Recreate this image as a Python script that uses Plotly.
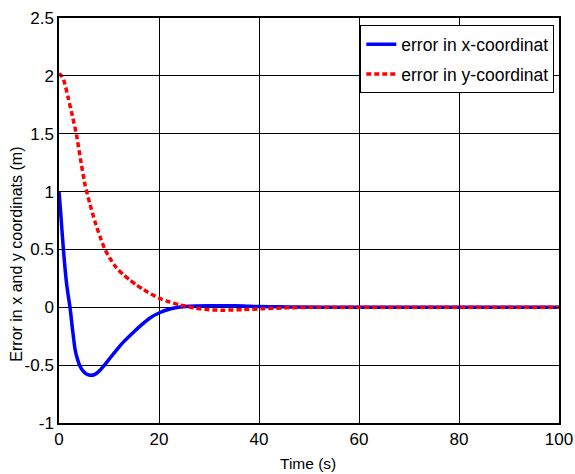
import plotly.graph_objects as go

# Tracking error of the x and y coordinates over time
t_x = [0, 0.3, 0.6, 0.9, 1.2, 1.5, 1.85, 2.2, 2.7, 3.2, 3.7, 4.2, 4.8, 5.4, 6.0, 6.5,
       7.0, 7.6, 8.3, 9.0, 10.0, 11.5, 13.0, 14.9, 16.5, 18.2, 20.2, 22.0, 23.8, 26.0,
       30.0, 34.0, 36.8, 40.0, 44.0, 47.6, 55.0, 100.0]
err_x = [1.0, 0.84, 0.66, 0.49, 0.34, 0.21, 0.10, 0.0, -0.19, -0.36, -0.45, -0.51, -0.55,
         -0.575, -0.585, -0.588, -0.583, -0.568, -0.54, -0.505, -0.45, -0.37, -0.295,
         -0.215, -0.152, -0.092, -0.045, -0.017, 0.0, 0.01, 0.014, 0.014, 0.012, 0.006,
         0.004, 0.002, 0.0, 0.0]

t_y = [0, 0.5, 0.9, 1.9, 2.7, 3.5, 4.3, 5.2, 6.2, 7.2, 8.2, 9.2, 10.3, 11.5, 12.8,
       14.2, 15.5, 16.9, 18.4, 19.9, 21.4, 22.9, 24.2, 25.5, 27.0, 30.0, 33.0, 37.0,
       41.0, 45.0, 50.0, 100.0]
err_y = [2.02, 2.0, 1.97, 1.80, 1.65, 1.49, 1.28, 1.06, 0.89, 0.74, 0.61, 0.50, 0.415,
         0.34, 0.285, 0.235, 0.193, 0.153, 0.115, 0.081, 0.056, 0.036, 0.02, 0.009,
         -0.005, -0.022, -0.025, -0.02, -0.012, -0.005, 0.0, 0.0]

x_ticks = [0, 20, 40, 60, 80, 100]
y_ticks = [-1, -0.5, 0, 0.5, 1, 1.5, 2, 2.5]
y_tick_text = ["-1", "-0.5", "0", "0.5", "1", "1.5", "2", "2.5"]

FONT = "Liberation Sans, Arial, sans-serif"

fig = go.Figure()
fig.add_trace(go.Scatter(
    x=t_x, y=err_x, mode="lines", name="error in x-coordinat", legendgroup="x",
    line=dict(color="#0000ff", width=3.5, shape="spline", smoothing=0.6),
))
fig.add_trace(go.Scatter(
    x=t_y, y=err_y, mode="lines", name="error in y-coordinat", legendgroup="y",
    line=dict(color="#ff0000", width=3.5, dash="5px,3px", shape="spline", smoothing=0.6),
))

axis_common = dict(
    showgrid=True, gridcolor="black", gridwidth=1,
    showline=True, linecolor="black", linewidth=1.5, mirror="ticks",
    ticks="inside", ticklen=5, tickcolor="black", tickwidth=1,
    zeroline=False, automargin=False,
    tickfont=dict(family=FONT, size=17, color="black"),
)

fig.update_xaxes(range=[0, 100], tickvals=x_ticks, **axis_common)
fig.update_yaxes(range=[-1, 2.5], tickvals=y_ticks, ticktext=y_tick_text, **axis_common)

fig.add_annotation(
    text="Time (s)", xref="paper", yref="paper", x=0.497, y=-0.123,
    xanchor="center", yanchor="bottom", showarrow=False, borderpad=0,
    font=dict(family=FONT, size=15.5, color="black"),
)
fig.add_annotation(
    text="Error in x and y coordinats (m)", textangle=-90,
    xref="paper", yref="paper", x=-0.084, y=0.4156,
    xanchor="center", yanchor="middle", showarrow=False,
    font=dict(family=FONT, size=16, color="black"),
)

fig.update_layout(
    width=575, height=474,
    margin=dict(l=59, r=16, t=18, b=51),
    paper_bgcolor="white", plot_bgcolor="white",
    showlegend=True,
    legend=dict(
        x=0.9906, y=0.982, xanchor="right", yanchor="top",
        bgcolor="white", bordercolor="black", borderwidth=1,
        font=dict(family=FONT, size=17.5, color="black"),
        tracegroupgap=4, itemwidth=30,
    ),
)

fig.write_html("out.html")
